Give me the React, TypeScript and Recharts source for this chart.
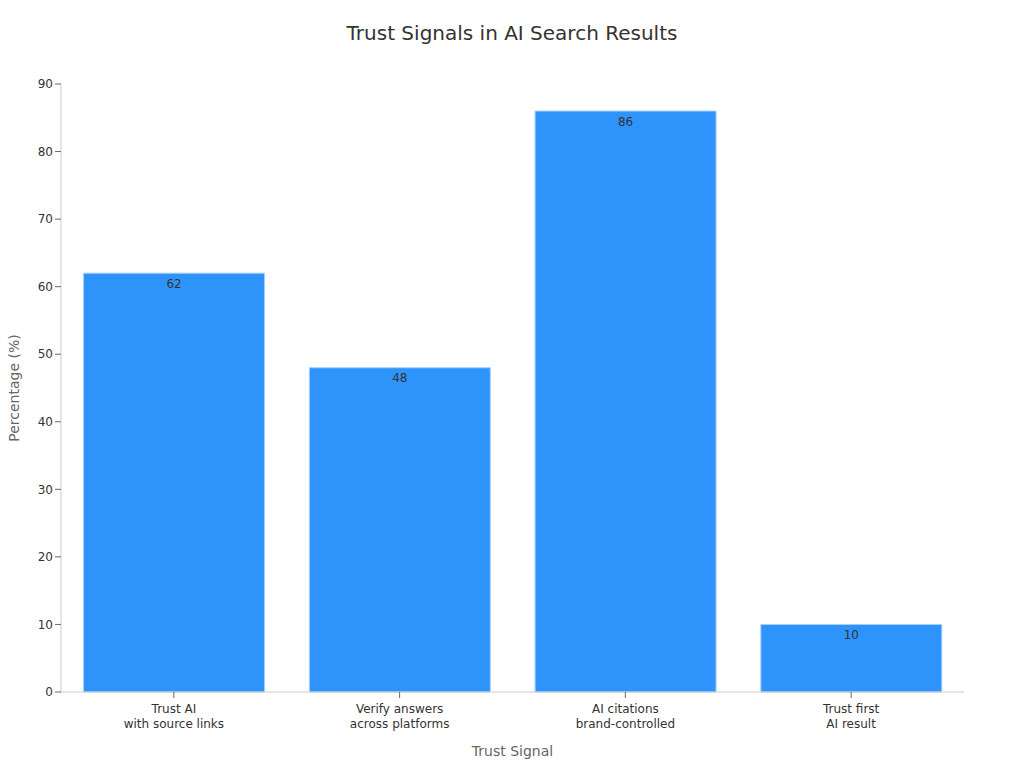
import { BarChart, Bar, XAxis, YAxis, LabelList } from "recharts";

const categories = [
  ["Trust AI", "with source links"],
  ["Verify answers", "across platforms"],
  ["AI citations", "brand-controlled"],
  ["Trust first", "AI result"],
];
const percentages = [62, 48, 86, 10];
const yTicks = [0, 10, 20, 30, 40, 50, 60, 70, 80, 90];

const data = categories.map((lines, i) => ({
  name: lines.join("\n"),
  value: percentages[i],
}));

const FONT = "'DejaVu Sans', sans-serif";

function CategoryTick({ x, y, payload }: any) {
  const lines = String(payload.value).split("\n");
  return (
    <text x={x} y={y + 4} textAnchor="middle" fill="#333" fontSize={12} fontFamily={FONT}>
      {lines.map((line, i) => (
        <tspan key={i} x={x} dy={i === 0 ? "0.71em" : "1.25em"}>
          {line}
        </tspan>
      ))}
    </text>
  );
}

export default function App() {
  return (
    <div style={{ position: "absolute", left: 0, top: 0, width: 1024, height: 768, background: "#fff", fontFamily: FONT }}>
      <div
        style={{
          position: "absolute",
          top: 20,
          left: 0,
          width: 1024,
          textAlign: "center",
          fontSize: 20,
          color: "#333",
          lineHeight: "26px",
        }}
      >
        Trust Signals in AI Search Results
      </div>
      <BarChart
        width={1024}
        height={768}
        data={data}
        margin={{ top: 84, right: 60, left: 1, bottom: 16 }}
        barCategoryGap="10%"
      >
        <XAxis
          dataKey="name"
          interval={0}
          height={60}
          tick={<CategoryTick />}
          tickSize={6}
          axisLine={{ stroke: "#ccc" }}
          tickLine={{ stroke: "#666" }}
          label={{ value: "Trust Signal", position: "insideBottom", offset: -4, fill: "#666", fontSize: 14, fontFamily: FONT }}
        />
        <YAxis
          width={60}
          domain={[0, 90]}
          ticks={yTicks}
          tickSize={6}
          tick={{ fill: "#333", fontSize: 12, fontFamily: FONT }}
          axisLine={{ stroke: "#ccc" }}
          tickLine={{ stroke: "#666" }}
          label={{
            value: "Percentage (%)",
            angle: -90,
            position: "insideLeft",
            offset: 13,
            style: { textAnchor: "middle" },
            fill: "#666",
            fontSize: 14,
            fontFamily: FONT,
          }}
        />
        <Bar dataKey="value" fill="#2E93FA" stroke="#a8d0f8" strokeWidth={1} isAnimationActive={false}>
          <LabelList dataKey="value" position="insideTop" offset={6} fill="#333" fontSize={12} fontFamily={FONT} />
        </Bar>
      </BarChart>
    </div>
  );
}
